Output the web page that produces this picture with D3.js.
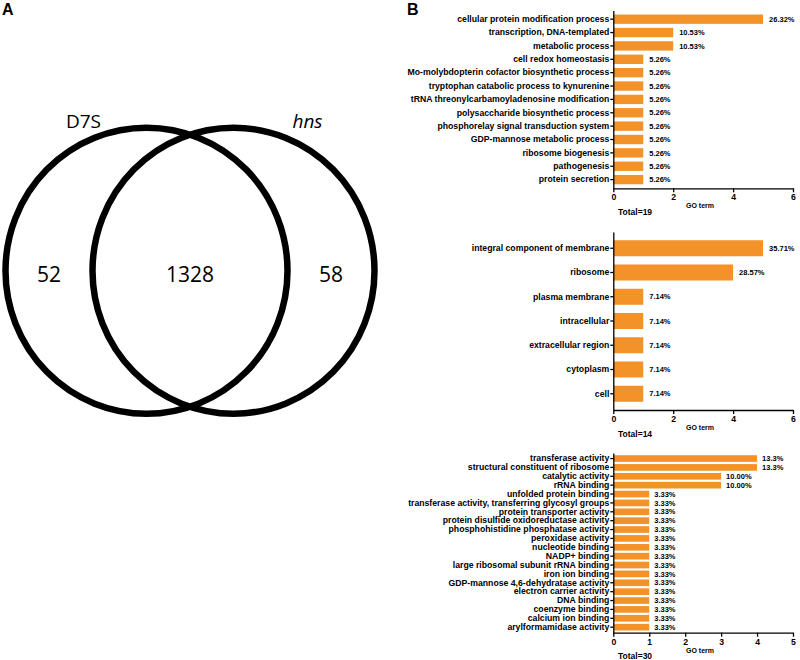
<!DOCTYPE html>
<html>
<head>
<meta charset="utf-8">
<script src="https://cdn.jsdelivr.net/npm/d3@7"></script>
<style>
  body { margin: 0; background: #fff; }
  text { font-family: "Liberation Sans", Arial, sans-serif; fill: #000; }
  .axis path, .axis line { stroke: #000; stroke-width: 1.3; }
  .axis text { font-weight: bold; fill: #000; }
</style>
</head>
<body>
<div id="chart"></div>
<script>
// venn counts
var vennSets = ["D7S", "hns"];
var vennCounts = [52, 1328, 58];

// biological process
var bpTerms = ["cellular protein modification process", "transcription, DNA-templated", "metabolic process",
  "cell redox homeostasis", "Mo-molybdopterin cofactor biosynthetic process", "tryptophan catabolic process to kynurenine",
  "tRNA threonylcarbamoyladenosine modification", "polysaccharide biosynthetic process", "phosphorelay signal transduction system",
  "GDP-mannose metabolic process", "ribosome biogenesis", "pathogenesis", "protein secretion"];
var bpCounts = [5, 2, 2, 1, 1, 1, 1, 1, 1, 1, 1, 1, 1];
var bpPct = ["26.32%", "10.53%", "10.53%", "5.26%", "5.26%", "5.26%", "5.26%", "5.26%", "5.26%", "5.26%", "5.26%", "5.26%", "5.26%"];

// cellular component
var ccTerms = ["integral component of membrane", "ribosome", "plasma membrane", "intracellular",
  "extracellular region", "cytoplasm", "cell"];
var ccCounts = [5, 4, 1, 1, 1, 1, 1];
var ccPct = ["35.71%", "28.57%", "7.14%", "7.14%", "7.14%", "7.14%", "7.14%"];

// molecular function
var mfTerms = ["transferase activity", "structural constituent of ribosome", "catalytic activity", "rRNA binding",
  "unfolded protein binding", "transferase activity, transferring glycosyl groups", "protein transporter activity",
  "protein disulfide oxidoreductase activity", "phosphohistidine phosphatase activity", "peroxidase activity",
  "nucleotide binding", "NADP+ binding", "large ribosomal subunit rRNA binding", "iron ion binding",
  "GDP-mannose 4,6-dehydratase activity", "electron carrier activity", "DNA binding", "coenzyme binding",
  "calcium ion binding", "arylformamidase activity"];
var mfCounts = [4, 4, 3, 3, 1, 1, 1, 1, 1, 1, 1, 1, 1, 1, 1, 1, 1, 1, 1, 1];
var mfPct = ["13.3%", "13.3%", "10.00%", "10.00%", "3.33%", "3.33%", "3.33%", "3.33%", "3.33%", "3.33%",
  "3.33%", "3.33%", "3.33%", "3.33%", "3.33%", "3.33%", "3.33%", "3.33%", "3.33%", "3.33%"];

var totals = ["Total=19", "Total=14", "Total=30"];

var svg = d3.select("#chart").append("svg")
  .attr("width", 800)
  .attr("height", 660);

// panel letters
svg.append("text").attr("x", 2).attr("y", 15)
  .style("font-size", "16px").style("font-weight", "bold").text("A");
svg.append("text").attr("x", 407).attr("y", 15)
  .style("font-size", "16px").style("font-weight", "bold").text("B");

/////////
//VENN //
/////////
var venn = {cx: 190, cy: 270.7, rx: 141, ry: 143, d: 43.5};
var circles = [venn.cx - venn.d, venn.cx + venn.d];

svg.selectAll(".venn")
  .data(circles)
  .enter().append("ellipse")
    .attr("class", "venn")
    .attr("cx", function(d){ return d; })
    .attr("cy", venn.cy)
    .attr("rx", venn.rx)
    .attr("ry", venn.ry)
    .attr("fill", "none")
    .attr("stroke", "#000")
    .attr("stroke-width", 6.5);

// set names above the circles
svg.append("text")
  .attr("x", circles[0] - 63).attr("y", 128)
  .attr("text-anchor", "middle")
  .style("font-family", "'Open Sans', sans-serif")
  .style("font-size", "19px")
  .text(vennSets[0]);
svg.append("text")
  .attr("x", circles[1] + 74).attr("y", 128)
  .attr("text-anchor", "middle")
  .style("font-family", "'Open Sans', sans-serif")
  .style("font-size", "19px")
  .style("font-style", "italic")
  .text(vennSets[1]);

// region centres
var leftEdgeA = circles[0] - venn.rx, leftEdgeB = circles[1] - venn.rx;
var rightEdgeA = circles[0] + venn.rx, rightEdgeB = circles[1] + venn.rx;
var regionX = [(leftEdgeA + leftEdgeB) / 2, (leftEdgeB + rightEdgeA) / 2, (rightEdgeA + rightEdgeB) / 2];

svg.selectAll(".vcount")
  .data(vennCounts)
  .enter().append("text")
    .attr("class", "vcount")
    .attr("x", function(d, i){ return regionX[i]; })
    .attr("y", 282)
    .attr("text-anchor", "middle")
    .style("font-family", "'Open Sans', sans-serif")
    .style("font-size", "21px")
    .text(function(d){ return d; });

/////////
//BARS //
/////////
function barPanel(terms, counts, pct, opt){
  var x = d3.scaleLinear().domain([0, opt.max]).range([613.3, 793]);
  var y = d3.scaleBand().domain(terms).range([opt.top, opt.bottom]).padding(opt.pad);
  var g = svg.append("g");

  g.selectAll(".bar")
    .data(terms)
    .enter().append("rect")
      .attr("class", "bar")
      .attr("x", x(0))
      .attr("y", function(d){ return y(d); })
      .attr("width", function(d, i){ return x(counts[i]) - x(0); })
      .attr("height", y.bandwidth())
      .attr("fill", "#f39229");

  g.selectAll(".pct")
    .data(terms)
    .enter().append("text")
      .attr("class", "pct")
      .attr("x", function(d, i){ return x(counts[i]) + opt.gap; })
      .attr("y", function(d){ return y(d) + y.bandwidth() / 2 + 2.7; })
      .style("font-size", "7.5px")
      .style("font-weight", "bold")
      .text(function(d, i){ return pct[i]; });

  var yAxis = d3.axisLeft(y).tickSize(3).tickSizeOuter(0).tickPadding(1);
  g.append("g")
    .attr("class", "y axis")
    .attr("transform", "translate(" + x(0) + ",0)")
    .call(yAxis)
    .selectAll("text").style("font-size", "8.7px");

  var xAxis = d3.axisBottom(x).ticks(opt.max / opt.step).tickSize(4).tickSizeOuter(0).tickPadding(2);
  g.append("g")
    .attr("class", "x axis")
    .attr("transform", "translate(0," + opt.bottom + ")")
    .call(xAxis)
    .selectAll("text").style("font-size", "8.7px");

  g.append("text")
    .attr("x", 700).attr("y", opt.bottom + 20)
    .attr("text-anchor", "middle")
    .style("font-size", "7px")
    .style("font-weight", "bold")
    .text("GO term");

  g.append("text")
    .attr("x", 618).attr("y", opt.bottom + 26.5)
    .style("font-size", "8.5px")
    .style("font-weight", "bold")
    .text(opt.total);
}

barPanel(bpTerms, bpCounts, bpPct, {max: 6, step: 2, top: 10.5, bottom: 188.3, pad: 0.3, gap: 6, total: totals[0]});
barPanel(ccTerms, ccCounts, ccPct, {max: 6, step: 2, top: 232, bottom: 410, pad: 0.34, gap: 6, total: totals[1]});
barPanel(mfTerms, mfCounts, mfPct, {max: 5, step: 1, top: 453, bottom: 632.7, pad: 0.25, gap: 5, total: totals[2]});
</script>
</body>
</html>
